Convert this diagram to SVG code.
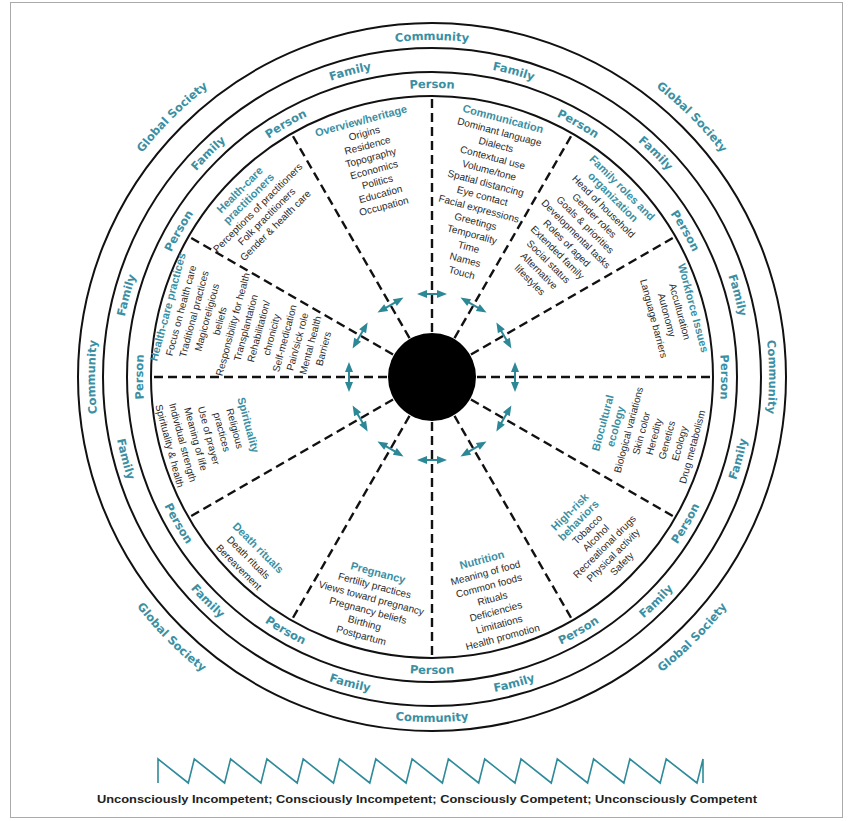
<svg xmlns="http://www.w3.org/2000/svg" xmlns:xlink="http://www.w3.org/1999/xlink" width="853" height="821" viewBox="0 0 853 821">
<style>
.ring{fill:none;stroke:#111;stroke-width:2}
.dash{stroke:#111;stroke-width:2.4;stroke-dasharray:9 5;fill:none}
.lbl{font-family:"DejaVu Sans",Verdana,sans-serif;font-weight:bold;font-size:11.5px;fill:#3b8fa3}
.ttl{font-family:"Liberation Sans",Arial,sans-serif;font-weight:bold;font-size:11px;fill:#3b8fa3;text-anchor:middle}
.itm{font-family:"Liberation Sans",Arial,sans-serif;font-size:10px;fill:#2a2a2a;text-anchor:middle}
.arr{fill:#2c8796}
.foot{font-family:"Liberation Sans",Arial,sans-serif;font-weight:bold;font-size:11px;fill:#222}
</style>
<defs>
<path id="pT289" d="M432,666 A289,289 0 1 1 432,88 A289,289 0 1 1 432,666"/>
<path id="pB297" d="M432,80 A297,297 0 1 0 432,674 A297,297 0 1 0 432,80"/>
<path id="pT313" d="M432,690 A313,313 0 1 1 432,64 A313,313 0 1 1 432,690"/>
<path id="pB321" d="M432,56 A321,321 0 1 0 432,698 A321,321 0 1 0 432,56"/>
<path id="pT337" d="M432,714 A337,337 0 1 1 432,40 A337,337 0 1 1 432,714"/>
<path id="pB345" d="M432,32 A345,345 0 1 0 432,722 A345,345 0 1 0 432,32"/>
<path id="pT366" d="M432,743 A366,366 0 1 1 432,11 A366,366 0 1 1 432,743"/>
<path id="pB374" d="M432,3 A374,374 0 1 0 432,751 A374,374 0 1 0 432,3"/>
<path id="arr" d="M-15,0 L-5,-4 L-5,-1 L5,-1 L5,-4 L15,0 L5,4 L5,1 L-5,1 L-5,4 Z"/>
</defs>
<rect x="10.5" y="2.5" width="832" height="815" fill="#fff" stroke="#aaa" stroke-width="1"/>

<g id="rings">
<circle class="ring" cx="432" cy="377" r="354"/>
<circle class="ring" cx="432" cy="377" r="329"/>
<circle class="ring" cx="432" cy="377" r="305"/>
<circle class="ring" cx="432" cy="377" r="281"/>
</g>

<g id="ring-labels">
<text class="lbl" text-anchor="middle"><textPath href="#pT366" startOffset="37.5%">Global Society</textPath></text>
<text class="lbl" text-anchor="middle"><textPath href="#pT366" startOffset="62.5%">Global Society</textPath></text>
<text class="lbl" text-anchor="middle"><textPath href="#pB374" startOffset="62.5%">Global Society</textPath></text>
<text class="lbl" text-anchor="middle"><textPath href="#pB374" startOffset="37.5%">Global Society</textPath></text>
<text class="lbl" text-anchor="middle"><textPath href="#pT337" startOffset="25%">Community</textPath></text>
<text class="lbl" text-anchor="middle"><textPath href="#pT337" startOffset="50%">Community</textPath></text>
<text class="lbl" text-anchor="middle"><textPath href="#pT337" startOffset="75%">Community</textPath></text>
<text class="lbl" text-anchor="middle"><textPath href="#pB345" startOffset="50%">Community</textPath></text>
<text class="lbl" text-anchor="middle"><textPath href="#pT313" startOffset="29.167%">Family</textPath></text>
<text class="lbl" text-anchor="middle"><textPath href="#pT313" startOffset="37.5%">Family</textPath></text>
<text class="lbl" text-anchor="middle"><textPath href="#pT313" startOffset="45.833%">Family</textPath></text>
<text class="lbl" text-anchor="middle"><textPath href="#pT313" startOffset="54.167%">Family</textPath></text>
<text class="lbl" text-anchor="middle"><textPath href="#pT313" startOffset="62.5%">Family</textPath></text>
<text class="lbl" text-anchor="middle"><textPath href="#pT313" startOffset="70.833%">Family</textPath></text>
<text class="lbl" text-anchor="middle"><textPath href="#pB321" startOffset="70.833%">Family</textPath></text>
<text class="lbl" text-anchor="middle"><textPath href="#pB321" startOffset="62.5%">Family</textPath></text>
<text class="lbl" text-anchor="middle"><textPath href="#pB321" startOffset="54.167%">Family</textPath></text>
<text class="lbl" text-anchor="middle"><textPath href="#pB321" startOffset="45.833%">Family</textPath></text>
<text class="lbl" text-anchor="middle"><textPath href="#pB321" startOffset="37.5%">Family</textPath></text>
<text class="lbl" text-anchor="middle"><textPath href="#pB321" startOffset="29.167%">Family</textPath></text>
<text class="lbl" text-anchor="middle"><textPath href="#pT289" startOffset="25%">Person</textPath></text>
<text class="lbl" text-anchor="middle"><textPath href="#pT289" startOffset="33.333%">Person</textPath></text>
<text class="lbl" text-anchor="middle"><textPath href="#pT289" startOffset="41.667%">Person</textPath></text>
<text class="lbl" text-anchor="middle"><textPath href="#pT289" startOffset="50%">Person</textPath></text>
<text class="lbl" text-anchor="middle"><textPath href="#pT289" startOffset="58.333%">Person</textPath></text>
<text class="lbl" text-anchor="middle"><textPath href="#pT289" startOffset="66.667%">Person</textPath></text>
<text class="lbl" text-anchor="middle"><textPath href="#pT289" startOffset="75%">Person</textPath></text>
<text class="lbl" text-anchor="middle"><textPath href="#pB297" startOffset="66.667%">Person</textPath></text>
<text class="lbl" text-anchor="middle"><textPath href="#pB297" startOffset="58.333%">Person</textPath></text>
<text class="lbl" text-anchor="middle"><textPath href="#pB297" startOffset="50%">Person</textPath></text>
<text class="lbl" text-anchor="middle"><textPath href="#pB297" startOffset="41.667%">Person</textPath></text>
<text class="lbl" text-anchor="middle"><textPath href="#pB297" startOffset="33.333%">Person</textPath></text>
</g>

<g id="connectors">
<g class="dash">
<line x1="432" y1="332" x2="432" y2="96"/>
<line x1="432" y1="332" x2="432" y2="96" transform="rotate(30 432 377)"/>
<line x1="432" y1="332" x2="432" y2="96" transform="rotate(60 432 377)"/>
<line x1="432" y1="332" x2="432" y2="96" transform="rotate(90 432 377)"/>
<line x1="432" y1="332" x2="432" y2="96" transform="rotate(120 432 377)"/>
<line x1="432" y1="332" x2="432" y2="96" transform="rotate(150 432 377)"/>
<line x1="432" y1="332" x2="432" y2="96" transform="rotate(180 432 377)"/>
<line x1="432" y1="332" x2="432" y2="96" transform="rotate(210 432 377)"/>
<line x1="432" y1="332" x2="432" y2="96" transform="rotate(240 432 377)"/>
<line x1="432" y1="332" x2="432" y2="96" transform="rotate(270 432 377)"/>
<line x1="432" y1="332" x2="432" y2="96" transform="rotate(300 432 377)"/>
<line x1="432" y1="332" x2="432" y2="96" transform="rotate(330 432 377)"/>
</g>
<g class="arr">
<use href="#arr" transform="rotate(0 432 377) translate(432 294)"/>
<use href="#arr" transform="rotate(30 432 377) translate(432 294)"/>
<use href="#arr" transform="rotate(60 432 377) translate(432 294)"/>
<use href="#arr" transform="rotate(90 432 377) translate(432 294)"/>
<use href="#arr" transform="rotate(120 432 377) translate(432 294)"/>
<use href="#arr" transform="rotate(150 432 377) translate(432 294)"/>
<use href="#arr" transform="rotate(180 432 377) translate(432 294)"/>
<use href="#arr" transform="rotate(210 432 377) translate(432 294)"/>
<use href="#arr" transform="rotate(240 432 377) translate(432 294)"/>
<use href="#arr" transform="rotate(270 432 377) translate(432 294)"/>
<use href="#arr" transform="rotate(300 432 377) translate(432 294)"/>
<use href="#arr" transform="rotate(330 432 377) translate(432 294)"/>
</g>
</g>

<g id="core"><circle cx="432" cy="377" r="44" fill="#000"/></g>

<g id="overview" transform="translate(361,121) rotate(-15)">
<text class="ttl" y="3.5">Overview/heritage</text>
<text class="itm" y="16.1">Origins</text>
<text class="itm" y="28.7">Residence</text>
<text class="itm" y="41.3">Topography</text>
<text class="itm" y="53.9">Economics</text>
<text class="itm" y="66.5">Politics</text>
<text class="itm" y="79.1">Education</text>
<text class="itm" y="91.7">Occupation</text>
</g>

<g id="communication" transform="translate(503,119) rotate(15)">
<text class="ttl" y="3.5">Communication</text>
<text class="itm" y="16.75">Dominant language</text>
<text class="itm" y="30">Dialects</text>
<text class="itm" y="43.25">Contextual use</text>
<text class="itm" y="56.5">Volume/tone</text>
<text class="itm" y="69.75">Spatial distancing</text>
<text class="itm" y="83">Eye contact</text>
<text class="itm" y="96.25">Facial expressions</text>
<text class="itm" y="109.5">Greetings</text>
<text class="itm" y="122.75">Temporality</text>
<text class="itm" y="136">Time</text>
<text class="itm" y="149.25">Names</text>
<text class="itm" y="162.5">Touch</text>
</g>

<g id="family-roles" transform="translate(622,188) rotate(45)">
<text class="ttl" y="3.5">Family roles and</text>
<text class="ttl" y="16.5">organization</text>
<text class="itm" y="29.5">Head of household</text>
<text class="itm" y="42.5">Gender roles</text>
<text class="itm" y="55.5">Goals &amp; priorities</text>
<text class="itm" y="68.5">Developmental tasks</text>
<text class="itm" y="81.5">Roles of aged</text>
<text class="itm" y="94.5">Extended family</text>
<text class="itm" y="107.5">Social status</text>
<text class="itm" y="120.5">Alternative</text>
<text class="itm" y="133.5">lifestyles</text>
</g>

<g id="workforce" transform="translate(693,308) rotate(75)">
<text class="ttl" y="3.5">Workforce Issues</text>
<text class="itm" y="17">Acculturation</text>
<text class="itm" y="30.5">Autonomy</text>
<text class="itm" y="44">Language barriers</text>
</g>

<g id="biocultural" transform="translate(603,423) rotate(-75)">
<text class="ttl" y="3.5">Biocultural</text>
<text class="ttl" y="16.7">ecology</text>
<text class="itm" y="29.9">Biological variations</text>
<text class="itm" y="43.1">Skin color</text>
<text class="itm" y="56.3">Heredity</text>
<text class="itm" y="69.5">Genetics</text>
<text class="itm" y="82.7">Ecology</text>
<text class="itm" y="95.9">Drug metabolism</text>
</g>

<g id="high-risk" transform="translate(570,512) rotate(-45)">
<text class="ttl" y="3.5">High-risk</text>
<text class="ttl" y="15.7">behaviors</text>
<text class="itm" y="27.9">Tobacco</text>
<text class="itm" y="40.1">Alcohol</text>
<text class="itm" y="52.3">Recreational drugs</text>
<text class="itm" y="64.5">Physical activity</text>
<text class="itm" y="76.7">Safety</text>
</g>

<g id="nutrition" transform="translate(482,560) rotate(-15)">
<text class="ttl" y="3.5">Nutrition</text>
<text class="itm" y="16.8">Meaning of food</text>
<text class="itm" y="30.1">Common foods</text>
<text class="itm" y="43.4">Rituals</text>
<text class="itm" y="56.7">Deficiencies</text>
<text class="itm" y="70">Limitations</text>
<text class="itm" y="83.3">Health promotion</text>
</g>

<g id="pregnancy" transform="translate(378,573) rotate(15)">
<text class="ttl" y="3.5">Pregnancy</text>
<text class="itm" y="16.4">Fertility practices</text>
<text class="itm" y="29.3">Views toward pregnancy</text>
<text class="itm" y="42.2">Pregnancy beliefs</text>
<text class="itm" y="55.1">Birthing</text>
<text class="itm" y="68">Postpartum</text>
</g>

<g id="death-rituals" transform="translate(258,548) rotate(45)">
<text class="ttl" y="3.5">Death rituals</text>
<text class="itm" y="17">Death rituals</text>
<text class="itm" y="30.5">Bereavement</text>
</g>

<g id="spirituality" transform="translate(248,425) rotate(75)">
<text class="ttl" y="3.5">Spirituality</text>
<text class="itm" y="17">Religious</text>
<text class="itm" y="30.5">practices</text>
<text class="itm" y="44">Use of prayer</text>
<text class="itm" y="57.5">Meaning of life</text>
<text class="itm" y="71">Individual strength</text>
<text class="itm" y="84.5">Spirituality &amp; health</text>
</g>

<g id="health-care-practices" transform="translate(168,307) rotate(-75)">
<text class="ttl" y="3.5">Health-care practices</text>
<text class="itm" y="16.9">Focus on health care</text>
<text class="itm" y="30.3">Traditional practices</text>
<text class="itm" y="43.7">Magicoreligious</text>
<text class="itm" y="57.1">beliefs</text>
<text class="itm" y="70.5">Responsibility for health</text>
<text class="itm" y="83.9">Transplantation</text>
<text class="itm" y="97.3">Rehabilitation/</text>
<text class="itm" y="110.7">chronicity</text>
<text class="itm" y="124.1">Self-medication</text>
<text class="itm" y="137.5">Pain/sick role</text>
<text class="itm" y="150.9">Mental health</text>
<text class="itm" y="164.3">Barriers</text>
</g>

<g id="health-care-practitioners" transform="translate(240,190) rotate(-45)">
<text class="ttl" y="3.5">Health-care</text>
<text class="ttl" y="16">practitioners</text>
<text class="itm" y="28.5">Perceptions of practitioners</text>
<text class="itm" y="41">Folk practitioners</text>
<text class="itm" y="53.5">Gender &amp; health care</text>
</g>

<g id="competence-scale">
<path fill="none" stroke="#2f8a99" stroke-width="1.6" d="M158,783 L158,759 L188.3,783 L194.3,759 L224.6,783 L230.6,759 L260.9,783 L266.9,759 L297.2,783 L303.2,759 L333.5,783 L339.5,759 L369.8,783 L375.8,759 L406.1,783 L412.1,759 L442.4,783 L448.4,759 L478.7,783 L484.7,759 L515,783 L521,759 L551.3,783 L557.3,759 L587.6,783 L593.6,759 L623.9,783 L629.9,759 L660.2,783 L666.2,759 L697,783 L703,759 L703,783"/>
<text class="foot" x="97" y="803" textLength="660" lengthAdjust="spacingAndGlyphs">Unconsciously Incompetent; Consciously Incompetent; Consciously Competent; Unconsciously Competent</text>
</g>
</svg>
